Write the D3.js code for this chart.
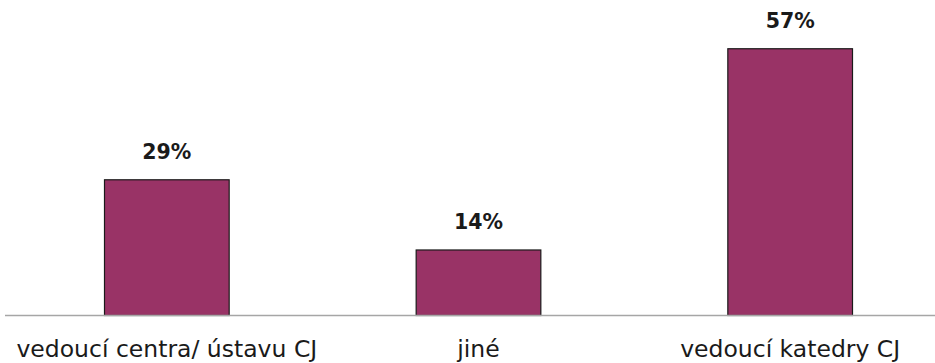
<!DOCTYPE html>
<html>
<head>
<meta charset="utf-8">
<script src="https://cdn.jsdelivr.net/npm/d3@7"></script>
<style>
  html, body { margin: 0; padding: 0; background: #fff; }
  svg { display: block; }
</style>
</head>
<body>
<svg id="chart" width="935" height="363"></svg>
<script>
// Share of respondents by position
const categories = ["vedoucí centra/ ústavu CJ", "jiné", "vedoucí katedry CJ"];
const values = [29, 14, 57];
const valueLabels = ["29%", "14%", "57%"];

const width = 935, height = 363;
const baseline = 315.5;

const svg = d3.select("#chart");

const x = d3.scaleBand()
  .domain(categories)
  .range([11, 946])
  .paddingInner(0.6)
  .paddingOuter(0.3);

const y = d3.scaleLinear()
  .domain([0, 60])
  .range([baseline, baseline - 60 * 4.68]);

// bars
svg.append("g")
  .selectAll("rect")
  .data(values)
  .join("rect")
  .attr("x", (d, i) => x(categories[i]))
  .attr("y", d => y(d))
  .attr("width", x.bandwidth())
  .attr("height", d => baseline - y(d))
  .attr("fill", "#993366")
  .attr("stroke", "#1a1a1a")
  .attr("stroke-width", 1.2);

// category axis
const axis = svg.append("g")
  .attr("transform", `translate(0,${baseline})`)
  .call(d3.axisBottom(x).tickSize(0).tickPadding(0));
axis.select(".domain").remove();
axis.append("line")
  .attr("x1", 5).attr("x2", 935)
  .attr("y1", 0).attr("y2", 0)
  .attr("stroke", "#a6a6a6")
  .attr("stroke-width", 1.5);
axis.selectAll(".tick text")
  .attr("y", 41.5)
  .attr("dy", 0)
  .attr("fill", "#1a1a1a")
  .style("font-family", "'DejaVu Sans', Verdana, sans-serif")
  .style("font-size", "23.5px");

// value labels
svg.append("g")
  .selectAll("text")
  .data(values)
  .join("text")
  .attr("x", (d, i) => x(categories[i]) + x.bandwidth() / 2)
  .attr("y", d => y(d) - 20.5)
  .attr("text-anchor", "middle")
  .attr("fill", "#1a1a1a")
  .style("font-family", "'DejaVu Sans', Verdana, sans-serif")
  .style("font-weight", "bold")
  .style("font-size", "20.5px")
  .text((d, i) => valueLabels[i]);
</script>
</body>
</html>
